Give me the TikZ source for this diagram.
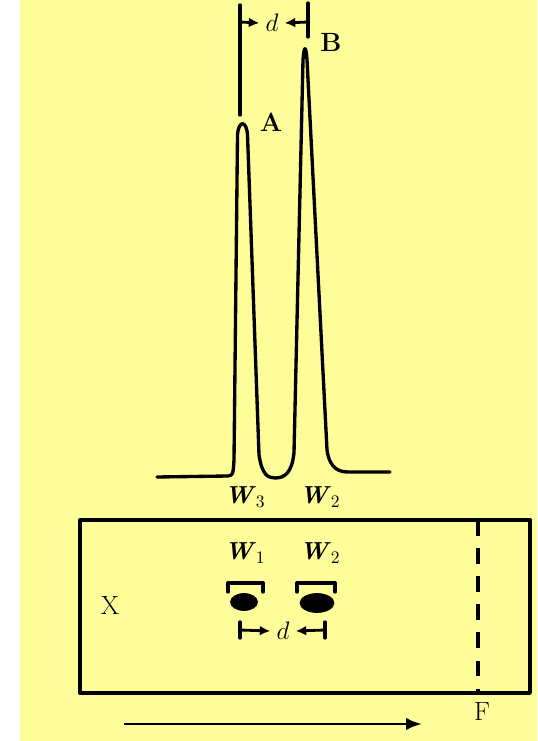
\documentclass[tikz,border=0pt]{standalone}
\usepackage{tikz}
\usepackage{xcolor}
\usetikzlibrary{arrows.meta}
\definecolor{paper}{RGB}{255,253,153}
\newcommand{\wname}[1]{\textbf{\textit{W}}$_{#1}$}

\begin{document}
\begin{tikzpicture}[
    line/.style={line width=1.9pt, line join=round, line cap=round},
    lab/.style={font=\fontsize{15}{18}\selectfont},
    wlab/.style={font=\fontsize{14}{17}\selectfont},
    dim/.style={line width=1.6pt, -{Latex[length=6pt,width=5.5pt]}},
    spot/.style={fill=black, draw=black}
]
\useasboundingbox (0,0) rectangle (10.74,-14.82);
\fill[white] (0,0) rectangle (10.74,-14.82);
\fill[paper] (0.4,0) rectangle (10.74,-14.82);

% chromatogram
\draw[line] (3.14,-9.54) -- (4.56,-9.52) .. controls (4.66,-9.5) .. (4.68,-9.2)
    -- (4.75,-2.7) .. controls (4.77,-2.4) and (4.93,-2.4) .. (4.95,-2.7)
    -- (5.18,-9.1) .. controls (5.24,-9.5) and (5.36,-9.56) .. (5.5,-9.56)
    .. controls (5.7,-9.56) and (5.84,-9.45) .. (5.88,-9.05)
    -- (6.06,-1.2) .. controls (6.08,-0.9) and (6.12,-0.9) .. (6.14,-1.2)
    -- (6.54,-9.0) .. controls (6.6,-9.4) and (6.8,-9.44) .. (6.98,-9.44)
    -- (7.8,-9.44);

% peak width labels
\node[wlab] (w3top) at (4.9,-9.94) {\wname{3}};
\node[wlab] (w2top) at (6.4,-9.94) {\wname{2}};

% peak names
\node[lab] (A) at (5.42,-2.44) {\textbf{A}};
\node[lab] (B) at (6.62,-0.84) {\textbf{B}};

% upper distance d
\coordinate (ta) at (4.8,-0.1);
\coordinate (tab) at (4.8,-2.3);
\coordinate (tb) at (6.16,-0.06);
\coordinate (tbb) at (6.16,-0.74);
\draw[line] (ta) -- (tab);
\draw[line] (tb) -- (tbb);
\node[lab] (dtop) at (5.44,-0.46) {$d$};
\draw[dim] (4.8,-0.44) -- (dtop.west);
\draw[dim] (6.16,-0.44) -- (dtop.east);

% plate
\draw[line] (1.6,-10.4) rectangle (10.6,-13.86);
\draw[line, line cap=butt, dash pattern=on 9pt off 7pt] (9.56,-10.4) -- (9.56,-13.86);
\node[lab] (X) at (2.2,-12.1) {X};
\node[lab] (F) at (9.64,-14.24) {F};

% spots
\node[wlab] (w1) at (4.9,-11.06) {\wname{1}};
\node[wlab] (w2) at (6.4,-11.06) {\wname{2}};
\draw[line] (4.56,-11.84) -- (4.56,-11.66) -- (5.26,-11.66) -- (5.26,-11.84);
\draw[line] (5.94,-11.84) -- (5.94,-11.66) -- (6.7,-11.66) -- (6.7,-11.84);
\fill[spot] (4.88,-12.04) ellipse (0.27 and 0.17);
\fill[spot] (6.34,-12.06) ellipse (0.34 and 0.19);

% lower distance d
\node[lab] (dlow) at (5.66,-12.62) {$d$};
\draw[line] (4.8,-12.44) -- (4.8,-12.76);
\draw[line] (6.5,-12.44) -- (6.5,-12.76);
\draw[dim] (4.8,-12.6) -- (dlow.west);
\draw[dim] (6.5,-12.6) -- (dlow.east);

% direction of development
\coordinate (start) at (2.48,-14.48);
\coordinate (stop) at (8.44,-14.48);
\draw[line width=1.6pt, -{Latex[length=9pt,width=7pt]}] (start) -- (stop);
\end{tikzpicture}
\end{document}
